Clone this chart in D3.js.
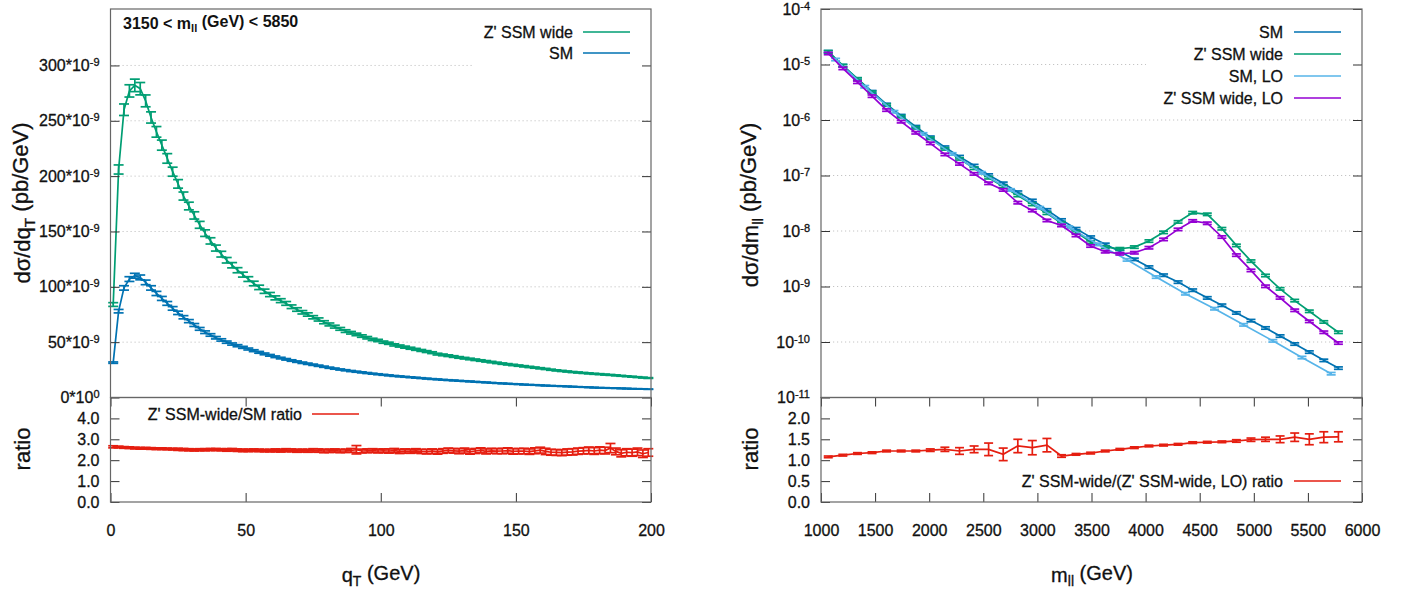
<!DOCTYPE html>
<html><head><meta charset="utf-8">
<script src="https://cdn.jsdelivr.net/npm/d3@7"></script>
<style>body{margin:0;background:#fff} svg{display:block} text{stroke:#111;stroke-width:0.3px}</style>
</head><body>
<script>
// ---------------- DATA ----------------
// left panel: q_T bins (GeV), cross sections in units of 10^-9 pb/GeV
const qT = [1,3,5,7,9,11,13,15,17,19,21,23,25,27,29,31,33,35,37,39,41,43,45,47,49,51,53,55,57,59,61,63,65,67,69,71,73,75,77,79,81,83,85,87,89,91,93,95,97,99,101,103,105,107,109,111,113,115,117,119,121,123,125,127,129,131,133,135,137,139,141,143,145,147,149,151,153,155,157,159,161,163,165,167,169,171,173,175,177,179,181,183,185,187,189,191,193,195,197,199];
const smQ = [31.5,78,99,107,110,108.5,104,99,94,89.5,
  85,80.5,76.5,72.5,69,65.5,62,59,56.5,54,
  52,50,48.3,46.8,45.3,43.8,42.3,40.8,39.4,38.1,
  36.8,35.6,34.5,33.4,32.4,31.4,30.5,29.6,28.7,27.8,
  26.9,26.1,25.3,24.6,23.9,23.3,22.7,22.1,21.5,21.0,
  20.5,20.0,19.5,19.1,18.7,18.3,17.9,17.5,17.1,16.7,
  16.4,16.0,15.7,15.4,15.1,14.8,14.5,14.2,13.9,13.6,
  13.3,13.0,12.7,12.5,12.2,12.0,11.7,11.5,11.3,11.0,
  10.8,10.6,10.4,10.2,10.0,9.8,9.6,9.4,9.2,9.0,
  8.8,8.7,8.5,8.4,8.2,8.1,7.9,7.8,7.7,7.5];
const zpQ = [84,206,260,277,282,279,268,253,240,228,
  216,204,193,182,173,164.5,156,148.5,141.5,135,
  129.5,124,119.5,115,111,107,103,99.5,96,93,
  90,87.5,85,82,79.5,77,75,72.5,70.5,68,
  66,64,62,60,58.5,57,55.5,54,52.5,51.5,
  50,49,47.5,46.5,45.5,44.5,43.5,42.5,41.5,40.5,
  39.2,38.5,37.8,37,36.2,35.5,34.8,34.1,33.4,32.7,
  32,31.3,30.6,30,29.4,28.8,28.2,27.6,27,26.4,
  25.8,25.1,24.5,24,23.5,23,22.6,22.2,21.8,21.4,
  21.1,20.7,20.4,20,19.6,19.2,18.8,18.4,18.0,17.6];
const ratioQ = [2.64,2.63,2.61,2.60,2.58,2.57,2.57,2.56,2.55,2.55,
  2.54,2.53,2.52,2.51,2.50,2.49,2.50,2.50,2.51,2.51,
  2.50,2.49,2.50,2.48,2.47,2.47,2.48,2.47,2.46,2.46,
  2.47,2.46,2.48,2.47,2.45,2.46,2.45,2.47,2.46,2.44,
  2.45,2.46,2.44,2.45,2.47,2.50,2.44,2.45,2.46,2.44,
  2.45,2.44,2.46,2.42,2.44,2.43,2.45,2.42,2.41,2.43,
  2.40,2.44,2.47,2.45,2.43,2.46,2.41,2.44,2.47,2.42,
  2.45,2.43,2.44,2.46,2.42,2.43,2.44,2.41,2.45,2.48,
  2.42,2.38,2.37,2.36,2.39,2.40,2.43,2.45,2.47,2.44,
  2.48,2.46,2.58,2.42,2.33,2.38,2.36,2.40,2.31,2.37];
const ratioQErr = [0.05,0.04,0.04,0.04,0.04,0.04,0.04,0.04,0.04,0.04,
  0.04,0.04,0.05,0.05,0.05,0.05,0.05,0.05,0.05,0.05,
  0.05,0.06,0.06,0.06,0.06,0.06,0.06,0.06,0.06,0.06,
  0.07,0.07,0.07,0.07,0.07,0.07,0.07,0.08,0.08,0.08,
  0.08,0.08,0.08,0.08,0.09,0.20,0.09,0.09,0.09,0.09,
  0.09,0.10,0.10,0.10,0.10,0.10,0.10,0.10,0.11,0.11,
  0.11,0.11,0.11,0.11,0.12,0.12,0.12,0.12,0.12,0.12,
  0.12,0.12,0.13,0.13,0.13,0.13,0.13,0.13,0.14,0.14,
  0.15,0.14,0.14,0.14,0.15,0.15,0.15,0.15,0.16,0.16,
  0.16,0.16,0.22,0.16,0.17,0.17,0.17,0.18,0.18,0.18];
const relErrQ = 0.02;

// right panel: m_ll bins (GeV), cross sections in pb/GeV
const mll = [1067,1202,1337,1472,1606,1741,1876,2010,2145,2280,2415,2549,2684,2819,2953,3088,3223,3357,3492,3627,3762,3896,4031,4166,4300,4435,4570,4705,4839,4974,5108,5243,5378,5513,5647,5782];
const smM = [1.70e-5,9.55e-6,5.50e-6,3.24e-6,1.91e-6,1.20e-6,7.59e-7,4.90e-7,3.24e-7,2.19e-7,1.51e-7,1.02e-7,7.24e-8,5.01e-8,3.55e-8,2.40e-8,1.58e-8,1.10e-8,7.76e-9,5.75e-9,4.27e-9,3.09e-9,2.24e-9,1.60e-9,1.20e-9,8.59e-10,6.24e-10,4.60e-10,3.34e-10,2.43e-10,1.79e-10,1.28e-10,9.20e-11,6.59e-11,4.67e-11,3.39e-11];
const zpM = [1.70e-5,9.55e-6,5.50e-6,3.16e-6,1.86e-6,1.15e-6,7.24e-7,4.68e-7,3.02e-7,2.00e-7,1.35e-7,9.12e-8,6.31e-8,4.37e-8,3.02e-8,2.09e-8,1.38e-8,9.55e-9,6.31e-9,5.13e-9,4.79e-9,5.13e-9,6.59e-9,9.46e-9,1.46e-8,2.14e-8,2.00e-8,1.10e-8,5.51e-9,2.87e-9,1.58e-9,9.08e-10,5.58e-10,3.58e-10,2.30e-10,1.50e-10];
const mllLO = [1135,1404,1674,1943,2212,2482,2751,3021,3290,3559,3829,4098,4368,4637,4906,5176,5445,5715];
const smLOM = [1.23e-5,3.98e-6,1.41e-6,5.62e-7,2.45e-7,1.12e-7,5.50e-8,2.63e-8,1.17e-8,5.75e-9,3.02e-9,1.48e-9,7.41e-10,3.98e-10,2.04e-10,1.05e-10,5.25e-11,2.69e-11];
const zpLOM = [1.58e-5,8.51e-6,4.79e-6,2.69e-6,1.51e-6,9.33e-7,5.89e-7,3.80e-7,2.40e-7,1.62e-7,1.07e-7,7.24e-8,5.50e-8,3.24e-8,2.34e-8,1.55e-8,1.26e-8,8.32e-9,5.37e-9,4.24e-9,3.89e-9,4.06e-9,5.00e-9,7.06e-9,1.07e-8,1.52e-8,1.38e-8,7.80e-9,3.68e-9,1.95e-9,1.01e-9,6.24e-10,3.73e-10,2.36e-10,1.50e-10,9.59e-11];
const ratioM = [1.08,1.12,1.16,1.18,1.22,1.22,1.22,1.24,1.26,1.22,1.26,1.26,1.14,1.34,1.30,1.36,1.10,1.14,1.17,1.22,1.26,1.30,1.34,1.36,1.38,1.42,1.43,1.44,1.46,1.49,1.50,1.50,1.55,1.50,1.55,1.56];
const ratioMErr = [0.02,0.02,0.02,0.02,0.02,0.02,0.02,0.03,0.05,0.08,0.08,0.15,0.15,0.16,0.17,0.16,0.03,0.02,0.02,0.02,0.02,0.02,0.02,0.02,0.02,0.02,0.02,0.02,0.03,0.04,0.05,0.08,0.10,0.13,0.13,0.12];
const relErrM = 0.05;

const qTicks = [0,50,100,150,200];
const yQTicks = [0,50,100,150,200,250,300];
const rQTicks = [0,1,2,3,4];
const mTicks = [1000,1500,2000,2500,3000,3500,4000,4500,5000,5500,6000];
const yMTicks = [1e-11,1e-10,1e-9,1e-8,1e-7,1e-6,1e-5,1e-4];
const rMTicks = [0,0.5,1,1.5,2];

const C = {zp:"#009e73", sm:"#0072b2", smLO:"#56b4e9", zpLO:"#9400d3", ratio:"#e51e10"};
const FONT = '"Liberation Sans", Arial, Helvetica, sans-serif';

// ---------------- LAYOUT ----------------
const svg = d3.select("body").append("svg").attr("width",1410).attr("height",589)
  .style("font-family",FONT);
const LX=[110.5,651], RX=[821,1362];
const YTOP=9, YMID=397.5, YBOT=502;

const xQ = d3.scaleLinear().domain([0,200]).range(LX);
const yQ = d3.scaleLinear().domain([0,351]).range([YMID,YTOP]);
const rQ = d3.scaleLinear().domain([0,5]).range([YBOT,YMID]);
const xM = d3.scaleLinear().domain([1000,6000]).range(RX);
const yM = d3.scaleLog().domain([1e-11,1e-4]).range([YMID,YTOP]);
const rM = d3.scaleLinear().domain([0,2.5]).range([YBOT,YMID]);

function grid(xr, y, ticks){
  svg.append("g").selectAll("line").data(ticks).join("line")
    .attr("x1",xr[0]).attr("x2",xr[1]).attr("y1",d=>y(d)).attr("y2",d=>y(d))
    .attr("stroke","#c4c4c4").attr("stroke-width",1).attr("stroke-dasharray","1.2,2.8");
}
grid(LX, yQ, yQTicks.slice(1));
grid(RX, yM, yMTicks.slice(1,-1));

// legend backgrounds (opaque)
svg.append("rect").attr("x",473).attr("y",12).attr("width",175).attr("height",58).attr("fill","#fff");
svg.append("rect").attr("x",1146).attr("y",13).attr("width",212).attr("height",100).attr("fill","#fff");

function series(x, y, xs, ys, errs, color, capW){
  const g = svg.append("g").attr("stroke",color).attr("fill","none").attr("stroke-width",1.7);
  const pts = xs.map((d,i)=>({x:d, y:ys[i], e:errs[i]}));
  g.append("path").attr("d", d3.line().x(d=>x(d.x)).y(d=>y(d.y))(pts));
  const eb = g.selectAll("g.eb").data(pts).join("g");
  eb.append("line").attr("x1",d=>x(d.x)).attr("x2",d=>x(d.x)).attr("y1",d=>y(d.y-d.e)).attr("y2",d=>y(d.y+d.e));
  eb.append("line").attr("x1",d=>x(d.x)-capW/2).attr("x2",d=>x(d.x)+capW/2).attr("y1",d=>y(d.y-d.e)).attr("y2",d=>y(d.y-d.e));
  eb.append("line").attr("x1",d=>x(d.x)-capW/2).attr("x2",d=>x(d.x)+capW/2).attr("y1",d=>y(d.y+d.e)).attr("y2",d=>y(d.y+d.e));
}
// left
series(xQ, yQ, qT, zpQ, zpQ.map(v=>v*relErrQ), C.zp, 10);
series(xQ, yQ, qT, smQ, smQ.map(v=>v*relErrQ), C.sm, 10);
series(xQ, rQ, qT, ratioQ, ratioQErr, C.ratio, 10);
// right
series(xM, yM, mll, smM, smM.map(v=>v*relErrM), C.sm, 9);
series(xM, yM, mll, zpM, zpM.map(v=>v*relErrM), C.zp, 9);
series(xM, yM, mllLO, smLOM, smLOM.map(v=>v*relErrM), C.smLO, 9);
series(xM, yM, mll, zpLOM, zpLOM.map(v=>v*relErrM), C.zpLO, 9);
series(xM, rM, mll, ratioM, ratioMErr, C.ratio, 9);

// ---------------- AXES ----------------
function styleAxis(g){
  g.attr("font-size",16).attr("font-family",FONT);
  g.select(".domain").remove();
  g.selectAll(".tick line").attr("stroke","#333").attr("stroke-width",1);
  g.selectAll(".tick text").attr("fill","#111");
}
function supLabel(sel, base, sup){
  sel.text(null);
  sel.append("tspan").text(base);
  sel.append("tspan").attr("dy","-0.45em").attr("font-size",11).text(sup);
}
function yAxes(xr, y, ticks, fmt){
  const gl = svg.append("g").attr("transform",`translate(${xr[0]},0)`)
    .call(d3.axisLeft(y).tickValues(ticks).tickSize(-9).tickPadding(11).tickFormat(()=>""));
  styleAxis(gl);
  gl.selectAll(".tick text").each(function(d){ fmt(d3.select(this), d); });
  const gr = svg.append("g").attr("transform",`translate(${xr[1]},0)`)
    .call(d3.axisRight(y).tickValues(ticks).tickSize(-9).tickFormat(()=>""));
  styleAxis(gr);
}
function xAxes(x, ticks){
  const gb = svg.append("g").attr("transform",`translate(0,${YBOT})`)
    .call(d3.axisBottom(x).tickValues(ticks).tickSize(-9).tickPadding(23).tickFormat(d3.format("d")));
  styleAxis(gb);
  const gt = svg.append("g").attr("transform",`translate(0,${YMID})`)
    .call(d3.axisTop(x).tickValues(ticks).tickSize(-9).tickFormat(()=>""));
  styleAxis(gt);
}
yAxes(LX, yQ, yQTicks, (s,d)=> d===0 ? supLabel(s,"0*10","0") : supLabel(s, d+"*10","-9"));
yAxes(LX, rQ, rQTicks, (s,d)=> s.text(d3.format(".1f")(d)));
yAxes(RX, yM, yMTicks, (s,d)=> supLabel(s,"10", String(Math.round(Math.log10(d)))));
yAxes(RX, rM, rMTicks, (s,d)=> s.text(d3.format(".1f")(d)));
xAxes(xQ, qTicks);
xAxes(xM, mTicks);

// frames
[[LX,YTOP,YMID],[LX,YMID,YBOT],[RX,YTOP,YMID],[RX,YMID,YBOT]].forEach(([xr,a,b])=>{
  svg.append("rect").attr("x",xr[0]).attr("y",a).attr("width",xr[1]-xr[0]).attr("height",b-a)
    .attr("fill","none").attr("stroke","#666").attr("stroke-width",1.2);
});

// ---------------- TEXT ----------------
function subText(g, parts, size){
  parts.forEach(([t,sub],i)=>{
    const ts = g.append("tspan").text(t);
    if(sub){ ts.attr("font-size",size*0.7).attr("dy","0.3em"); }
    else if(i>0 && parts[i-1][1]){ ts.attr("dy","-0.3em"); }
  });
}
const lab = (x,y,rot,anchor,size)=> svg.append("text")
  .attr("transform",`translate(${x},${y})${rot?" rotate(-90)":""}`)
  .attr("text-anchor",anchor).attr("font-size",size).attr("fill","#111");

subText(lab(30,203,true,"middle",22), [["dσ/dq",false],["T",true],[" (pb/GeV)",false]], 22);
subText(lab(758,205,true,"middle",22), [["dσ/dm",false],["ll",true],[" (pb/GeV)",false]], 22);
lab(30,449,true,"middle",22).text("ratio");
lab(758,449,true,"middle",22).text("ratio");
subText(lab(381,582,false,"middle",20), [["q",false],["T",true],[" (GeV)",false]], 20);
subText(lab(1092,582,false,"middle",20), [["m",false],["ll",true],[" (GeV)",false]], 20);
subText(lab(123,28.5,false,"start",16).attr("font-weight","bold").style("stroke-width","0px"), [["3150 < m",false],["ll",true],[" (GeV) < 5850",false]], 16);

function legend(entries, xText, xl0, xl1){
  entries.forEach(([t,color,y])=>{
    lab(xText, y+5.5, false, "end", 16).text(t);
    svg.append("line").attr("x1",xl0).attr("x2",xl1).attr("y1",y).attr("y2",y)
      .attr("stroke",color).attr("stroke-width",1.7);
  });
}
legend([["Z' SSM wide",C.zp,32],["SM",C.sm,53]], 573, 583, 630);
legend([["Z' SSM-wide/SM ratio",C.ratio,414]], 302, 312, 359);
legend([["SM",C.sm,32],["Z' SSM wide",C.zp,54],["SM, LO",C.smLO,76],["Z' SSM wide, LO",C.zpLO,98]], 1283, 1294, 1341);
legend([["Z' SSM-wide/(Z' SSM-wide, LO) ratio",C.ratio,481]], 1283, 1294, 1341);
</script>
</body></html>
